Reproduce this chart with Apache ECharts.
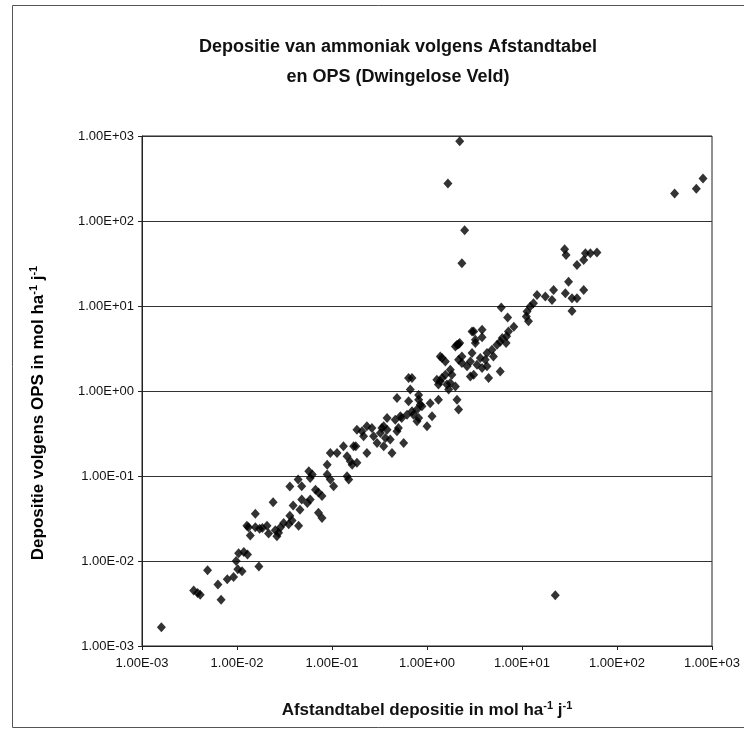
<!DOCTYPE html>
<html>
<head>
<meta charset="utf-8">
<script src="https://cdn.jsdelivr.net/npm/echarts@6/dist/echarts.min.js"></script>
<style>
  html, body { margin: 0; padding: 0; background: #fff; }
  #chart { width: 744px; height: 730px; }
</style>
</head>
<body>
<div id="chart"></div>
<script>
// Afstandtabel depositie (x) en OPS depositie (y), mol/ha/j
const afstandtabel = [
  1.6e-3, 3.5e-3, 3.85e-3, 4.1e-3, 4.9e-3, 6.3e-3, 6.8e-3, 7.9e-3, 9.2e-3, 9.8e-3,
  1.04e-2, 1.18e-2, 1.29e-2, 1.02e-2, 1.13e-2, 1.7e-2, 1.56e-2, 1.32e-2, 1.56e-2, 1.73e-2,
  1.38e-2, 2.07e-2, 2.15e-2, 2.53e-2, 2.63e-2, 2.4e-2, 1.27e-2, 1.85e-2, 2.74e-2, 2.86e-2,
  3.1e-2, 3.5e-2, 3.8e-2, 4.45e-2, 3.9e-2, 3.6e-2, 4.6e-2, 4.8e-2, 5.9e-2, 5.5e-2,
  7.2e-2, 7.85e-2, 6.7e-2, 7.2e-2, 7.85e-2, 3.6e-2, 4.4e-2, 4.8e-2, 5.7e-2, 5.9e-2,
  6.2e-2, 8.9e-2, 8.9e-2, 9.6e-2, 0.104, 0.144, 0.15, 9.6e-2, 0.113, 0.132,
  0.144, 0.156, 0.169, 0.183, 0.163, 0.178, 0.183, 0.207, 0.233, 0.215,
  0.233, 0.263, 0.274, 0.323, 0.335, 0.35, 0.38, 0.41, 0.365, 0.298,
  0.35, 0.428, 0.483, 0.568, 0.38, 0.463, 0.524, 0.542, 0.616, 0.72,
  0.695, 0.785, 0.817, 0.885, 0.785, 1.0, 1.13, 0.5, 0.483, 0.64,
  0.817, 1.32, 2.07, 2.15, 0.667, 0.695, 0.64, 0.817, 0.85, 1.08,
  1.27, 1.44, 1.56, 1.62, 1.69, 1.38, 1.56, 1.76, 1.83, 2.07,
  2.15, 2.33, 1.99, 1.38, 1.32, 1.76, 1.44, 1.99, 2.15, 2.21,
  2.33, 2.64, 2.98, 2.86, 2.86, 3.1, 3.36, 3.64, 3.8, 4.1,
  4.28, 4.28, 4.45, 5.0, 4.83, 5.46, 5.9, 6.2, 6.9, 7.2,
  5.9, 3.1, 2.98, 3.8, 3.23, 3.8, 3.23, 6.8, 8.2, 7.06,
  6.05, 11.7, 11.1, 11.3, 12.2, 13.2, 14.4, 17.6, 20.7, 21.5,
  28.6, 30.9, 33.6, 37.9, 44.6, 33.6, 28.1, 29.1, 37.9, 44.6,
  46.5, 52.4, 61.5, 22.4, 2.33, 2.49, 1.66, 2.21, 404, 684,
  804
];
const ops = [
  1.66e-3, 4.5e-3, 4.2e-3, 4.0e-3, 7.8e-3, 5.3e-3, 3.5e-3, 6.1e-3, 6.5e-3, 1.0e-2,
  1.23e-2, 1.28e-2, 1.19e-2, 8.0e-3, 7.6e-3, 8.6e-3, 3.6e-2, 2.5e-2, 2.5e-2, 2.4e-2,
  2.0e-2, 2.6e-2, 2.1e-2, 2.3e-2, 1.96e-2, 4.9e-2, 2.6e-2, 2.45e-2, 2.15e-2, 2.47e-2,
  2.8e-2, 2.7e-2, 3.0e-2, 2.6e-2, 4.5e-2, 3.4e-2, 4.0e-2, 5.3e-2, 5.3e-2, 4.8e-2,
  3.7e-2, 3.2e-2, 6.9e-2, 6.4e-2, 5.8e-2, 7.5e-2, 9.1e-2, 7.6e-2, 0.114, 9.5e-2,
  0.104, 0.136, 0.104, 9.1e-2, 7.6e-2, 9.95e-2, 9.1e-2, 0.187, 0.187, 0.224,
  0.171, 0.149, 0.224, 0.143, 0.136, 0.224, 0.351, 0.336, 0.384, 0.293,
  0.187, 0.368, 0.293, 0.321, 0.368, 0.384, 0.351, 0.268, 0.279, 0.245,
  0.224, 0.187, 0.336, 0.245, 0.482, 0.46, 0.504, 0.482, 0.527, 0.527,
  0.577, 0.604, 0.482, 0.66, 0.44, 0.384, 0.504, 0.368, 0.83, 0.755,
  0.79, 0.79, 0.79, 0.604, 1.04, 1.42, 1.42, 0.9, 0.69, 0.72,
  1.36, 1.42, 1.55, 1.19, 1.04, 2.55, 2.22, 1.78, 1.55, 3.5,
  2.33, 2.55, 1.13, 1.3, 1.19, 1.24, 2.44, 3.33, 3.56, 3.66,
  2.13, 1.95, 2.79, 2.22, 1.48, 1.55, 2.04, 2.44, 1.86, 2.33,
  2.79, 1.95, 1.42, 2.55, 3.05, 3.5, 3.8, 4.2, 4.4, 5.0,
  1.7, 5.0, 5.0, 5.25, 4.0, 4.3, 3.66, 3.66, 5.7, 7.3,
  9.6, 6.6, 7.5, 8.6, 9.85, 10.8, 13.5, 12.9, 11.8, 15.4,
  14.1, 19.3, 12.3, 12.3, 15.4, 8.75, 46.4, 39.8, 30.4, 34.8,
  41.7, 41.7, 42.5, 3.95e-3, 31.8, 77.6, 276, 870, 211, 239,
  316
];
const tickLabels = ['1.00E-03', '1.00E-02', '1.00E-01', '1.00E+00', '1.00E+01', '1.00E+02', '1.00E+03'];

const titleLines = ['Depositie van ammoniak volgens Afstandtabel', 'en OPS (Dwingelose Veld)'];

function decadeLabel(v) {
  const e = Math.round(Math.log10(v));
  return tickLabels[e + 3] || '';
}

const points = afstandtabel.map((x, i) => [x, ops[i]]);

const unitRich = {
  t: { fontFamily: 'Liberation Sans', fontSize: 17, fontWeight: 'bold', color: '#111', lineHeight: 20, verticalAlign: 'middle' },
  s: { fontFamily: 'Liberation Sans', fontSize: 11, fontWeight: 'bold', color: '#111', lineHeight: 12, verticalAlign: 'top' }
};

const chart = echarts.init(document.getElementById('chart'), null, { renderer: 'canvas' });

chart.setOption({
  backgroundColor: '#fff',
  animation: false,
  title: {
    text: titleLines.join('\n'),
    left: 393,
    top: 27,
    textAlign: 'center',
    textStyle: { fontFamily: 'Liberation Sans', fontSize: 18, fontWeight: 'bold', color: '#111', lineHeight: 30 }
  },
  grid: { left: 142, right: 32, top: 136, bottom: 84, show: true, borderColor: '#222', borderWidth: 1 },
  xAxis: {
    type: 'log',
    logBase: 10,
    min: 0.001,
    max: 1000,
    splitNumber: 6,
    name: '{t|Afstandtabel depositie in mol ha}{s|-1}{t| j}{s|-1}',
    nameLocation: 'middle',
    nameGap: 54,
    nameTextStyle: { rich: unitRich },
    axisLine: { lineStyle: { color: '#222', width: 1 } },
    axisTick: { show: true, inside: false, length: 4, lineStyle: { color: '#222' } },
    axisLabel: { formatter: decadeLabel, fontFamily: 'Liberation Sans', fontSize: 13, color: '#111', margin: 11 },
    splitLine: { show: false },
    minorTick: { show: false }
  },
  yAxis: {
    type: 'log',
    logBase: 10,
    min: 0.001,
    max: 1000,
    splitNumber: 6,
    axisLine: { show: true, lineStyle: { color: '#222', width: 1 } },
    axisTick: { show: true, inside: false, length: 4, lineStyle: { color: '#222' } },
    axisLabel: { formatter: decadeLabel, fontFamily: 'Liberation Sans', fontSize: 13, color: '#111', margin: 8 },
    splitLine: { show: true, lineStyle: { color: '#333', width: 1 } }
  },
  graphic: [
    {
      type: 'rect',
      silent: true,
      shape: { x: 12.5, y: 5.5, width: 740, height: 722 },
      style: { fill: 'none', stroke: '#555', lineWidth: 1 }
    },
    {
      type: 'text',
      silent: true,
      x: 38,
      y: 413,
      rotation: Math.PI / 2,
      style: {
        text: '{t|Depositie volgens OPS in mol ha}{s|-1}{t| j}{s|-1}',
        rich: unitRich,
        align: 'center',
        verticalAlign: 'middle'
      }
    }
  ],
  series: [
    {
      type: 'scatter',
      data: points,
      symbol: 'diamond',
      symbolSize: [9, 10],
      itemStyle: { color: '#000' }
    }
  ]
});
</script>
</body>
</html>
